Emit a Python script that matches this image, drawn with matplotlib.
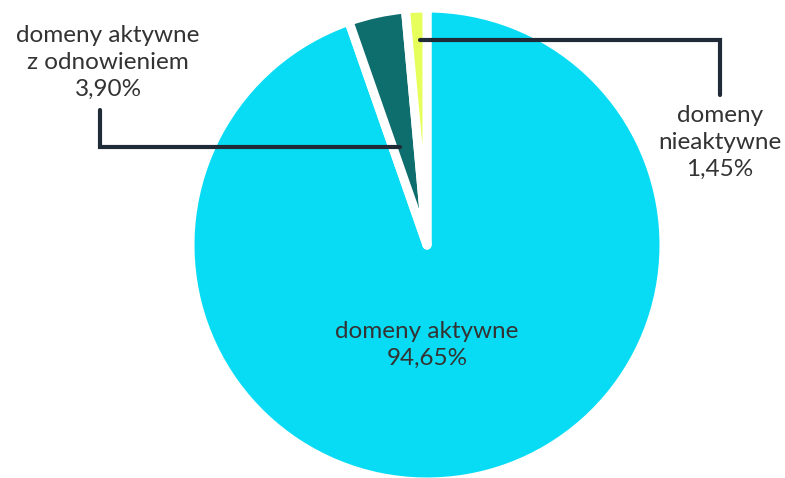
import matplotlib
matplotlib.use('Agg')
import matplotlib.pyplot as plt

labels = ['domeny aktywne', 'domeny aktywne\nz odnowieniem', 'domeny\nnieaktywne']
values = [94.65, 3.90, 1.45]
pct_text = ['94,65%', '3,90%', '1,45%']
colors = ['#08DCF4', '#0E6E6E', '#E6FF5A']

plt.rcParams['font.family'] = ['Lato', 'DejaVu Sans']

W, H = 785, 478
fig = plt.figure(figsize=(W / 100, H / 100), dpi=100)
ax = fig.add_axes([0, 0, 1, 1])

cx, cy, r = 427, H - 245, 237
ax.pie(values, colors=colors, startangle=90, counterclock=False,
       center=(cx, cy), radius=r,
       wedgeprops=dict(edgecolor='white', linewidth=6.5, joinstyle='round'))
ax.set_xlim(0, W)
ax.set_ylim(0, H)
ax.set_aspect('equal')
ax.axis('off')

line_c = '#1F2B36'
txt_c = '#333333'
fs = 17.5

# big slice label inside the pie
ax.text(cx, H - 345, labels[0] + '\n' + pct_text[0], ha='center', va='center',
        fontsize=fs, color=txt_c, linespacing=1.3)

# left leader + label
ax.plot([100, 100, 400], [H - 110, H - 147, H - 147], color=line_c, lw=3,
        solid_capstyle='round', solid_joinstyle='miter')
ax.text(108, H - 62, labels[1] + '\n' + pct_text[1], ha='center', va='center',
        fontsize=fs, color=txt_c, linespacing=1.35)

# right leader + label
ax.plot([420, 720, 720], [H - 40, H - 40, H - 95], color=line_c, lw=3,
        solid_capstyle='round', solid_joinstyle='miter')
ax.text(720, H - 142, labels[2] + '\n' + pct_text[2], ha='center', va='center',
        fontsize=fs, color=txt_c, linespacing=1.35)

fig.savefig('out.png', dpi=100, facecolor='white')
